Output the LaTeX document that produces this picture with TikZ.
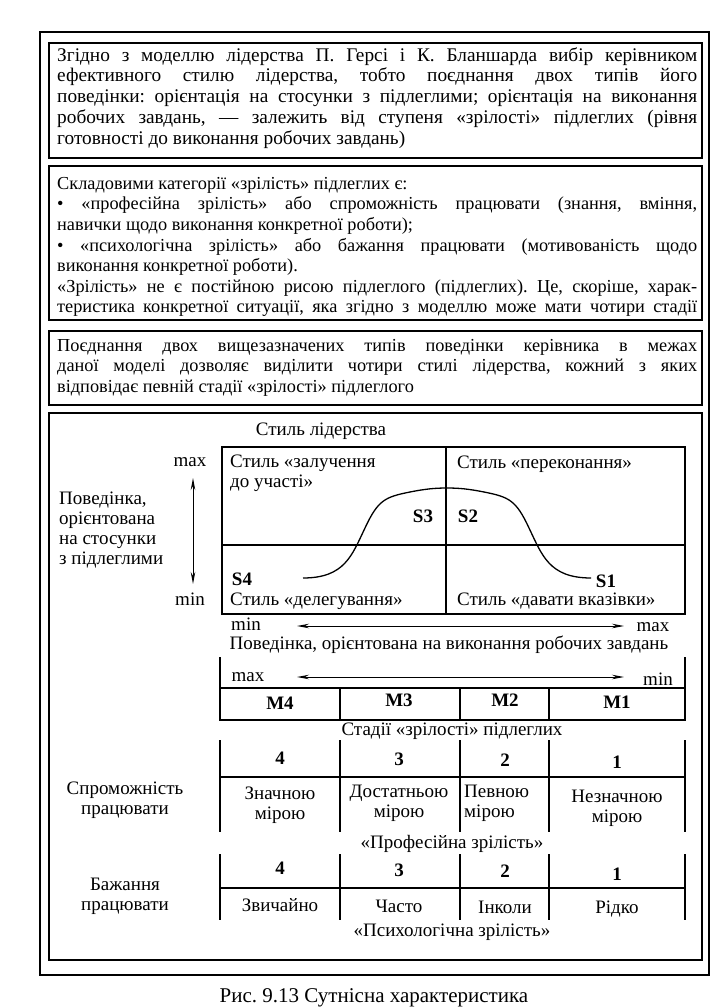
\documentclass[tikz,border=0pt]{standalone}
\usepackage{fontspec}
\setmainfont{Liberation Serif}
\usetikzlibrary{arrows.meta}
\frenchspacing
\begin{document}
\begin{tikzpicture}[x=1pt,y=-1pt,
  frame/.style={draw, line width=1.6pt},
  para/.style={anchor=north west, inner sep=0pt, text width=640pt, align=justify},
  lbl/.style={inner sep=0pt, font=\fontsize{19}{20}\selectfont},
  blbl/.style={inner sep=0pt, font=\fontsize{19}{20}\selectfont\bfseries},
  rule/.style={line width=1.1pt},
  dbl/.style={{Stealth[length=12pt,width=4.5pt]}-{Stealth[length=12pt,width=4.5pt]}, line width=1pt},
  curve/.style={line width=1.3pt},
]
\useasboundingbox (0,0) rectangle (720,1008);

% frames
\draw[frame] (40,32) rectangle (709,975);
\draw[frame] (49,43) rectangle (702,158);
\draw[frame] (49,166) rectangle (702,320);
\draw[frame] (49,331) rectangle (702,405);
\draw[frame] (49,413) rectangle (702,960);

% text boxes
\node[para, font=\fontsize{19.3}{20.8}\selectfont] (t1) at (57,46.4) {\strut Згідно з моделлю лідерства П. Герсі і К. Бланшарда вибір керівником\linebreak
ефективного стилю лідерства, тобто поєднання двох типів його\linebreak
поведінки: орієнтація на стосунки з підлеглими; орієнтація на виконання\linebreak
робочих завдань, — залежить від ступеня «зрілості» підлеглих (рівня\linebreak
готовності до виконання робочих завдань)};

\node[para, font=\fontsize{18.3}{20.6}\selectfont] (t2) at (57,174.6) {\strut Складовими категорії «зрілість» підлеглих є:\newline
• «професійна зрілість» або спроможність працювати (знання, вміння,\linebreak
навички щодо виконання конкретної роботи);\newline
• «психологічна зрілість» або бажання працювати (мотивованість щодо\linebreak
виконання конкретної роботи).\newline
«Зрілість» не є постійною рисою підлеглого (підлеглих). Це, скоріше, харак-\linebreak
теристика конкретної ситуації, яка згідно з моделлю може мати чотири стадії\linebreak};

\node[para, font=\fontsize{18.3}{20.6}\selectfont] (t3) at (57,336.6) {\strut Поєднання двох вищезазначених типів поведінки керівника в межах\linebreak
даної моделі дозволяє виділити чотири стилі лідерства, кожний з яких\linebreak
відповідає певній стадії «зрілості» підлеглого};

% leadership style chart
\node[lbl] (title) at (321,431) {Стиль лідерства};
\draw[rule] (222,447) rectangle (685,614);
\draw[rule] (446,447) -- (446,614);
\draw[rule] (222,545) -- (685,545);

\node[lbl] (ymax) at (190,462) {max};
\node[lbl] (ymin) at (190,599) {min};
\coordinate (vtop) at (193,478);
\coordinate (vbot) at (193,584);
\draw[dbl] (vtop) -- (vbot);
\node[lbl, anchor=north west, align=left] (relat) at (59,492) {Поведінка,\\орієнтована\\на стосунки\\з підлеглими};

\node[lbl, anchor=north west, align=left] (q3) at (230,455) {Стиль «залучення\\до участі»};
\node[lbl, anchor=west] (q2) at (457,464) {Стиль «переконання»};
\node[lbl, anchor=west] (q4) at (230,601) {Стиль «делегування»};
\node[lbl, anchor=west] (q1) at (457,601) {Стиль «давати вказівки»};
\node[blbl] (s3) at (423,516) {S3};
\node[blbl] (s2) at (468,516) {S2};
\node[blbl] (s4) at (242,579) {S4};
\node[blbl] (s1) at (606,581) {S1};

\draw[curve] (303,578) .. controls (345,578) and (352,555) .. (365,528)
  .. controls (378,500) and (385,497) .. (410,492)
  .. controls (425,489) and (435,488) .. (447,488)
  .. controls (459,488) and (469,489) .. (484,492)
  .. controls (509,497) and (516,500) .. (529,528)
  .. controls (542,555) and (549,578) .. (591,578);

% task axis
\node[lbl] (xmin) at (246,624) {min};
\node[lbl] (xmax) at (653,627) {max};
\coordinate (hl) at (297,626);
\coordinate (hr) at (624,626);
\draw[dbl] (hl) -- (hr);
\node[lbl] (task) at (449,645) {Поведінка, орієнтована на виконання робочих завдань};

% maturity stages
\draw[rule] (220,657) -- (220,720);
\draw[rule] (685,657) -- (685,720);
\node[lbl] (mmax) at (248,677) {max};
\node[lbl] (mmin) at (658,679) {min};
\coordinate (ml) at (297,677);
\coordinate (mr) at (624,677);
\draw[dbl] (ml) -- (mr);
\draw[rule] (220,688) rectangle (685,720);
\draw[rule] (340,688) -- (340,720);
\draw[rule] (460,688) -- (460,720);
\draw[rule] (549,688) -- (549,720);
\node[blbl] (m4) at (280,703) {M4};
\node[blbl] (m3) at (399,700) {M3};
\node[blbl] (m2) at (505,700) {M2};
\node[blbl] (m1) at (617,702) {M1};
\node[lbl] (stages) at (452,731) {Стадії «зрілості» підлеглих};

% table 1
\foreach \x in {220,340,460,549,685} \draw[rule] (\x,740) -- (\x,832);
\draw[rule] (220,777) -- (685,777);
\node[blbl] (a4) at (280,758) {4};
\node[blbl] (a3) at (399,759) {3};
\node[blbl] (a2) at (505,760) {2};
\node[blbl] (a1) at (617,762) {1};
\node[lbl, align=center] (a4t) at (280,805) {Значною\\мірою};
\node[lbl, align=center] (a3t) at (399,803) {Достатньою\\мірою};
\node[lbl, align=left, anchor=west] (a2t) at (464,803) {Певною\\мірою};
\node[lbl, align=center] (a1t) at (617,808) {Незначною\\мірою};
\node[lbl, align=center] (abil) at (125,800) {Спроможність\\працювати};
\node[lbl] (prof) at (452,844) {«Професійна зрілість»};

% table 2
\foreach \x in {220,340,460,549,685} \draw[rule] (\x,854) -- (\x,920);
\draw[rule] (220,888) -- (685,888);
\node[blbl] (b4) at (280,868) {4};
\node[blbl] (b3) at (399,870) {3};
\node[blbl] (b2) at (505,871) {2};
\node[blbl] (b1) at (617,874) {1};
\node[lbl] (b4t) at (280,905) {Звичайно};
\node[lbl] (b3t) at (399,906) {Часто};
\node[lbl] (b2t) at (505,907) {Інколи};
\node[lbl] (b1t) at (617,909) {Рідко};
\node[lbl, align=center] (will) at (125,896) {Бажання\\працювати};
\node[lbl] (psych) at (452,932) {«Психологічна зрілість»};

% caption
\node[inner sep=0pt, anchor=base, font=\fontsize{21}{24}\selectfont] (cap) at (374,1002) {Рис. 9.13 Сутнісна характеристика};
\end{tikzpicture}
\end{document}
